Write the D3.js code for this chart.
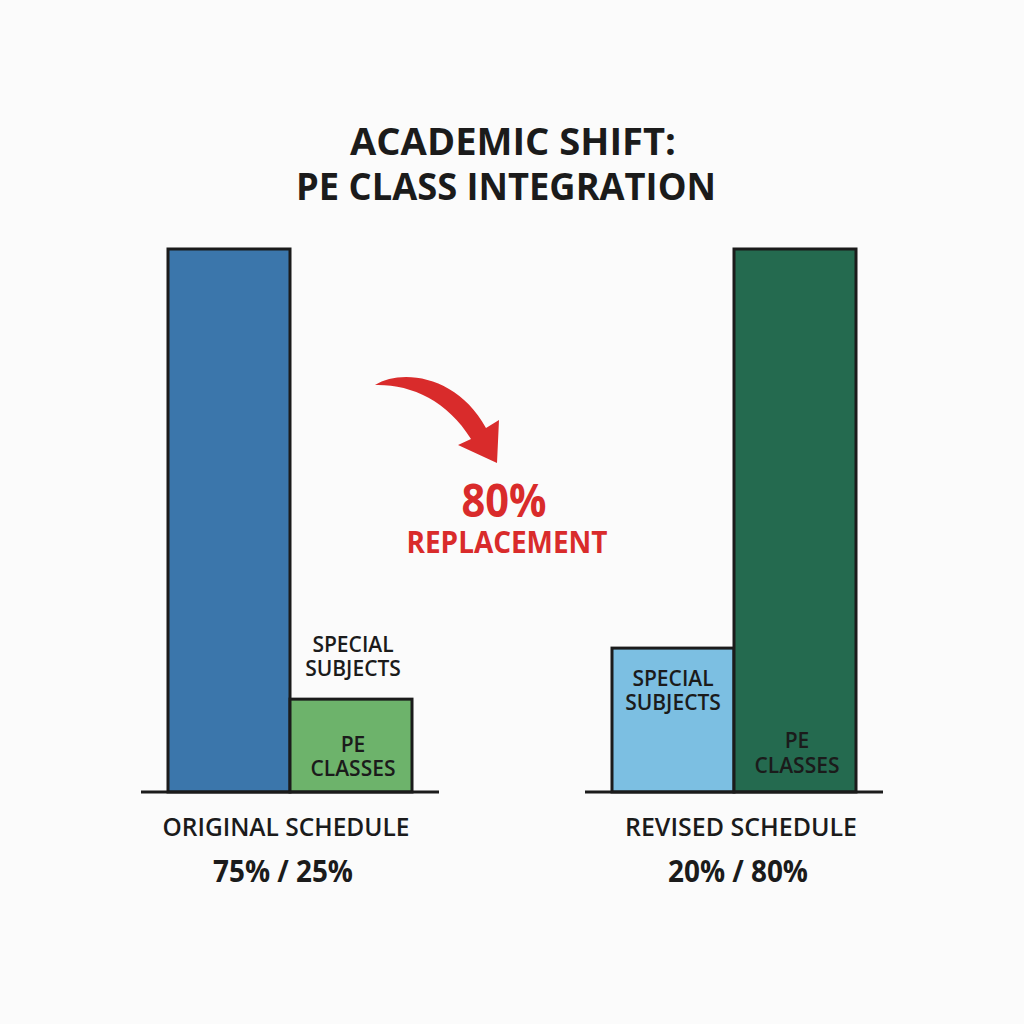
<!DOCTYPE html>
<html><head><meta charset="utf-8">
<script src="https://cdn.jsdelivr.net/npm/d3@7"></script>
<style>html,body{margin:0;padding:0;background:#fbfbfb;}svg{display:block;}</style>
</head><body><div id="chart"></div>
<script>
// ---- data ----
const groups = ["ORIGINAL SCHEDULE", "REVISED SCHEDULE"];
const groupShares = ["75% / 25%", "20% / 80%"];
const seriesNames = ["SPECIAL SUBJECTS", "PE CLASSES"];
// bar heights as drawn, in % of the tallest bar
const originalHeights = [100, 17.1];
const revisedHeights = [26.5, 100];
const titleLines = ["ACADEMIC SHIFT:", "PE CLASS INTEGRATION"];
const callout = ["80%", "REPLACEMENT"];

const W = 1024, H = 1024;
const svg = d3.select("#chart").append("svg").attr("width", W).attr("height", H);
svg.append("rect").attr("width", W).attr("height", H).attr("fill", "#fbfbfb");

const font = "'Open Sans', sans-serif";
const ink = "#1b1b1b";

// title
svg.append("g").selectAll("text").data(titleLines).join("text")
  .attr("x", (d, i) => i ? 506 : 513).attr("y", (d, i) => 155 + i * 45)
  .attr("text-anchor", "middle").attr("font-family", font).attr("font-weight", 700)
  .attr("font-size", 37).attr("fill", ink)
  .attr("textLength", (d, i) => i ? 420 : 326).attr("lengthAdjust", "spacingAndGlyphs")
  .text(d => d);

const baseY = 792, topY = 249;
const y = d3.scaleLinear().domain([0, 100]).range([baseY, topY]);
const colors = [["#3b76ab", "#6db36b"], ["#7cbfe2", "#246a4f"]];
const heights = [originalHeights, revisedHeights];
const groupLeft = [168, 612];
const barW = 122;
const xInner = d3.scaleBand().domain(seriesNames).range([0, barW * 2]).padding(0);
const labelCx = [286, 741];
const shareCx = [283, 738];
const labelLen = [247, 232];

groups.forEach((g, gi) => {
  const gg = svg.append("g").attr("transform", `translate(${groupLeft[gi]},0)`);
  gg.selectAll("rect").data(seriesNames).join("rect")
    .attr("x", d => xInner(d)).attr("width", xInner.bandwidth())
    .attr("y", (d, i) => y(heights[gi][i]))
    .attr("height", (d, i) => baseY - y(heights[gi][i]))
    .attr("fill", (d, i) => colors[gi][i])
    .attr("stroke", ink).attr("stroke-width", 3);
  svg.append("line").attr("x1", groupLeft[gi] - 27).attr("x2", groupLeft[gi] + barW * 2 + 27)
    .attr("y1", baseY).attr("y2", baseY).attr("stroke", ink).attr("stroke-width", 3);
  svg.append("text").attr("x", labelCx[gi]).attr("y", 836).attr("text-anchor", "middle")
    .attr("font-family", font).attr("font-weight", 600).attr("font-size", 25).attr("fill", ink)
    .attr("textLength", labelLen[gi]).attr("lengthAdjust", "spacingAndGlyphs").text(g);
  svg.append("text").attr("x", shareCx[gi]).attr("y", 882).attr("text-anchor", "middle")
    .attr("font-family", font).attr("font-weight", 700).attr("font-size", 30).attr("fill", ink)
    .attr("textLength", 140).attr("lengthAdjust", "spacingAndGlyphs").text(groupShares[gi]);
});

// in-bar / above-bar labels
function twoLine(x, y0, y1, words) {
  const t = svg.append("text").attr("text-anchor", "middle").attr("font-family", font)
    .attr("font-weight", 600).attr("font-size", 21).attr("fill", ink);
  words.forEach((w, i) => t.append("tspan").attr("x", x).attr("y", i ? y1 : y0).text(w));
}
const splitName = n => n === "PE CLASSES" ? ["PE", "CLASSES"] : ["SPECIAL", "SUBJECTS"];
twoLine(353, 652, 676, splitName(seriesNames[0]));
twoLine(353, 752, 776, splitName(seriesNames[1]));
twoLine(673, 686, 710, splitName(seriesNames[0]));
twoLine(797, 748, 773, splitName(seriesNames[1]));

// curved red arrow
const red = "#d92b2b";
svg.append("path")
  .attr("d", "M375,385 C402,368 458,376 486,428 L499,420 L497,463 L458,445 L471,439 C447,400 410,384 375,385 Z")
  .attr("fill", red);

svg.append("text").attr("x", 504).attr("y", 517).attr("text-anchor", "middle")
  .attr("font-family", font).attr("font-weight", 700).attr("font-size", 46).attr("fill", red)
  .attr("textLength", 85).attr("lengthAdjust", "spacingAndGlyphs").text(callout[0]);
svg.append("text").attr("x", 507).attr("y", 553).attr("text-anchor", "middle")
  .attr("font-family", font).attr("font-weight", 700).attr("font-size", 31).attr("fill", red)
  .attr("textLength", 201).attr("lengthAdjust", "spacingAndGlyphs").text(callout[1]);
</script></body></html>
